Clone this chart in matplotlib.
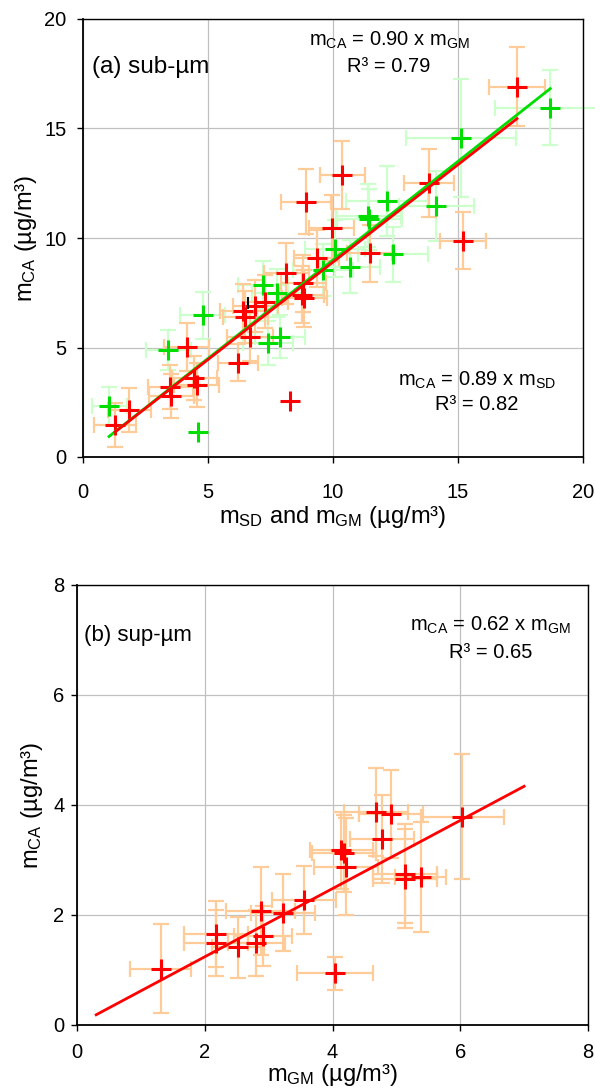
import matplotlib
matplotlib.use('Agg')
import matplotlib.pyplot as plt
import numpy as np

plt.rcParams['font.family'] = ['Liberation Sans', 'DejaVu Sans']
plt.rcParams['mathtext.fontset'] = 'custom'
plt.rcParams['mathtext.rm'] = 'Liberation Sans'
plt.rcParams['mathtext.it'] = 'Liberation Sans:italic'

# ---------------- Panel (a) sub-um data ----------------
# red: m_SD vs m_CA
a_sd_x = [17.36, 10.36, 8.90, 13.82, 9.94, 15.20, 11.47, 9.35, 8.12, 8.81, 8.75, 8.85,
          7.28, 6.88, 6.38, 6.48, 6.68, 4.15, 6.19, 4.45, 4.55, 3.48, 3.52, 8.26, 1.85, 1.28]
a_sd_y = [16.90, 12.87, 11.66, 12.51, 10.46, 9.88, 9.30, 9.07, 8.39, 7.93, 7.40, 7.25,
          7.10, 6.90, 6.68, 6.40, 5.49, 5.04, 4.31, 3.62, 3.30, 3.18, 2.80, 2.57, 2.13, 1.45]
a_sd_xerr = [1.1, 0.9, 1.0, 1.0, 0.9, 0.92, 0.9, 0.9, 0.9, 0.9, 0.9, 0.9,
             0.9, 0.9, 0.9, 0.9, 0.9, 0.9, 0.8, 0.9, 0.9, 0.9, 0.9, 0.0, 0.85, 0.85]
a_sd_yerr = [1.8, 1.55, 1.5, 1.55, 1.5, 1.3, 1.3, 1.3, 1.4, 1.3, 1.3, 1.3,
             1.2, 1.2, 1.2, 1.2, 1.1, 1.1, 0.85, 1.0, 1.0, 1.0, 1.0, 0.0, 1.0, 1.0]
# green: m_GM vs m_CA
a_gm_x = [18.69, 15.12, 12.16, 14.13, 11.40, 11.45, 12.39, 10.08, 10.68, 9.61,
          7.21, 7.75, 7.86, 7.40, 4.79, 3.41, 1.04, 4.61]
a_gm_y = [15.95, 14.57, 11.70, 11.48, 11.02, 10.85, 9.25, 9.50, 8.69, 8.54,
          7.85, 7.47, 5.50, 5.20, 6.48, 4.89, 2.33, 1.16]
a_gm_xerr = [2.2, 2.2, 1.65, 1.5, 1.3, 1.3, 1.4, 1.2, 1.2, 1.2,
             1.0, 1.0, 1.0, 1.0, 0.9, 0.9, 0.7, 0.0]
a_gm_yerr = [1.7, 2.7, 1.6, 1.6, 1.45, 1.4, 1.26, 1.3, 1.2, 1.2,
             1.1, 1.1, 1.0, 1.0, 1.07, 0.9, 0.85, 0.0]
a_black_x = [6.61]
a_black_y = [7.02]
a_slope_sd = 0.89
a_slope_gm = 0.90

# ---------------- Panel (b) sup-um data ----------------
b_x = [1.31, 2.18, 2.18, 2.52, 2.81, 2.91, 2.88, 3.23, 3.56, 4.04, 4.14, 4.18,
       4.21, 4.68, 4.92, 4.78, 5.14, 5.13, 5.38, 6.03]
b_y = [1.02, 1.65, 1.50, 1.41, 1.50, 1.62, 2.07, 2.04, 2.28, 0.94, 3.18, 3.12,
       2.88, 3.87, 3.84, 3.39, 2.75, 2.66, 2.70, 3.79]
b_xerr = [0.48, 0.5, 0.5, 0.4, 0.45, 0.45, 0.54, 0.5, 0.5, 0.6, 0.5, 0.5,
          0.5, 0.5, 0.5, 0.5, 0.5, 0.5, 0.4, 0.65]
b_yerr = [0.81, 0.6, 0.6, 0.56, 0.6, 0.55, 0.8, 0.7, 0.62, 0.3, 0.7, 0.7,
          0.88, 0.8, 0.8, 0.8, 0.9, 0.9, 1.0, 1.13]
b_slope = 0.62
b_fit_range = [0.3, 7.0]

RED = '#ff0000'
ORANGE_ERR = '#ffcc99'
GREEN = '#00dd00'
GREEN_ERR = '#ccffcc'


def draw_err(ax, x, y, xe, ye, color, clip=True):
    x = np.asarray(x); y = np.asarray(y); xe = np.asarray(xe); ye = np.asarray(ye)
    m = (xe > 0) | (ye > 0)
    cont = ax.errorbar(x[m], y[m], xerr=xe[m], yerr=ye[m], fmt='none', ecolor=color,
                       elinewidth=1.6, capsize=5.5, capthick=1.6, zorder=2)
    if not clip:
        for art in list(cont.lines[1]) + list(cont.lines[2]):
            art.set_clip_on(False)


def style(ax, xlim, ylim, xt, yt, xpad, ypad):
    ax.set_xlim(*xlim)
    ax.set_ylim(*ylim)
    ax.set_xticks(xt)
    ax.set_yticks(yt)
    ax.grid(True, color='#c0c0c0', linewidth=0.9)
    ax.set_axisbelow(True)
    ax.tick_params(direction='out', length=4, width=1, labelsize=14.5, colors='black')
    ax.tick_params(axis='x', pad=xpad)
    ax.tick_params(axis='y', pad=ypad)
    for s in ['left', 'bottom']:
        ax.spines[s].set_linewidth(1.3)
    for s in ['top', 'right']:
        ax.spines[s].set_linewidth(1.0)


fig = plt.figure(figsize=(5.95, 10.9), dpi=100)
ax1 = fig.add_axes([83 / 595, 1 - 457 / 1090, 500 / 595, 438 / 1090])
ax2 = fig.add_axes([77 / 595, 1 - 1025 / 1090, 511 / 595, 440 / 1090])

MS = 15
MEW = 2.2

# ---- panel a ----
draw_err(ax1, a_gm_x, a_gm_y, a_gm_xerr, a_gm_yerr, GREEN_ERR, clip=False)
draw_err(ax1, a_sd_x, a_sd_y, a_sd_xerr, a_sd_yerr, ORANGE_ERR)
ax1.plot(a_gm_x, a_gm_y, ls='none', marker='+', ms=MS, mew=MEW, color=GREEN, zorder=3)
ax1.plot(a_sd_x, a_sd_y, ls='none', marker='+', ms=MS, mew=MEW, color=RED, zorder=4)
ax1.plot(a_black_x, a_black_y, ls='none', marker='|', ms=8, mew=1.5, color='black', zorder=4.5)
gx = np.array([min(a_gm_x), max(a_gm_x)])
sx = np.array([min(a_sd_x), max(a_sd_x)])
ax1.plot(gx, a_slope_gm * gx, color=GREEN, lw=2, zorder=5)
ax1.plot(sx, a_slope_sd * sx, color=RED, lw=2, zorder=6)
style(ax1, (0, 20), (0, 20), [0, 5, 10, 15, 20], [0, 5, 10, 15, 20], xpad=15, ypad=8)
ax1.set_xlabel(r'm$_{\mathregular{SD}}$ and m$_{\mathregular{GM}}$ (µg/m³)', fontsize=17, labelpad=1)
ax1.set_ylabel(r'm$_{\mathregular{CA}}$ (µg/m³)', fontsize=17, labelpad=4)
ax1.text(0.35, 17.82, '(a) sub-µm', fontsize=17.5, ha='left', va='center')
ax1.text(12.24, 19.04, r'm$_{\mathregular{CA}}$ = 0.90 x m$_{\mathregular{GM}}$', fontsize=14.5, ha='center', va='center')
ax1.text(12.24, 17.82, 'R³ = 0.79', fontsize=14.5, ha='center', va='center')
ax1.text(15.78, 3.52, r'm$_{\mathregular{CA}}$ = 0.89 x m$_{\mathregular{SD}}$', fontsize=14.5, ha='center', va='center')
ax1.text(15.76, 2.42, 'R³ = 0.82', fontsize=14.5, ha='center', va='center')

# ---- panel b ----
draw_err(ax2, b_x, b_y, b_xerr, b_yerr, ORANGE_ERR)
ax2.plot(b_x, b_y, ls='none', marker='+', ms=MS, mew=MEW, color=RED, zorder=4)
bx = np.array(b_fit_range)
ax2.plot(bx, b_slope * bx, color=RED, lw=2, zorder=6)
style(ax2, (0, 8), (0, 8), [0, 2, 4, 6, 8], [0, 2, 4, 6, 8], xpad=9, ypad=5)
ax2.set_xlabel(r'm$_{\mathregular{GM}}$ (µg/m³)', fontsize=17, labelpad=0)
ax2.set_ylabel(r'm$_{\mathregular{CA}}$ (µg/m³)', fontsize=17, labelpad=6)
ax2.text(0.11, 7.08, '(b) sup-µm', fontsize=16, ha='left', va='center')
ax2.text(6.47, 7.26, r'm$_{\mathregular{CA}}$ = 0.62 x m$_{\mathregular{GM}}$', fontsize=14.5, ha='center', va='center')
ax2.text(6.48, 6.77, 'R³ = 0.65', fontsize=14.5, ha='center', va='center')

fig.savefig('out.png', dpi=100)
